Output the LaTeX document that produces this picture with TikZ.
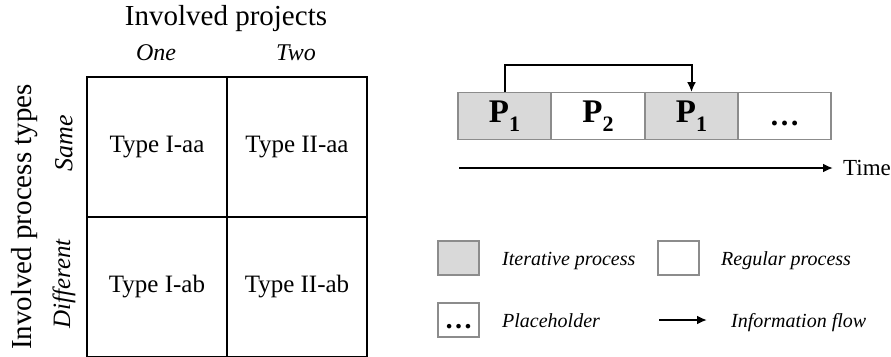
\documentclass[tikz,border=0pt]{standalone}
\usepackage{fontspec}
\setmainfont{Liberation Serif}
\usetikzlibrary{arrows.meta}
\definecolor{boxline}{HTML}{8C8C8C}
\definecolor{boxfill}{HTML}{D9D9D9}
\newcommand{\fs}[1]{\fontsize{#1}{#1}\selectfont}
\newcommand{\Pidx}[1]{\textbf{P}\raisebox{-0.28em}{\fs{22}\textbf{#1}}}
\newcommand{\bdots}{\vphantom{P}\textbf{\dots}}
\tikzset{
  cell/.style={draw=black, line width=1.4pt, minimum width=140pt, minimum height=140pt, inner sep=0pt, font=\fs{25}},
  proc/.style={draw=boxline, line width=1.3pt, minimum width=93pt, minimum height=46.5pt, inner sep=0pt, font=\fs{33}\bfseries},
  iter/.style={proc, fill=boxfill},
  reg/.style={proc, fill=white},
  legbox/.style={draw=boxline, line width=1.3pt, minimum width=41pt, minimum height=34pt, inner sep=0pt},
  legtext/.style={anchor=base west, inner sep=0pt, font=\fs{20}\itshape},
  flow/.style={line width=2pt, -{Latex[length=10pt,width=9pt]}},
}
\begin{document}
\begin{tikzpicture}[x=1pt,y=-1pt]
\useasboundingbox[fill=white] (0,0) rectangle (891,356);
% matrix
\node[cell] (c11) at (157,147) {Type I-aa};
\node[cell] (c12) at (297,147) {Type II-aa};
\node[cell] (c21) at (157,287) {Type I-ab};
\node[cell] (c22) at (297,287) {Type II-ab};
\node[font=\fs{29}] (hproj) at (226,19) {Involved projects};
\node[font=\fs{24}\itshape] (one) at (156,53) {One};
\node[font=\fs{24}\itshape] (two) at (296,53) {Two};
\node[font=\fs{29}, rotate=90] (vproc) at (25,217) {Involved process types};
\node[font=\fs{26}\itshape, rotate=90] (same) at (64,143) {Same};
\node[font=\fs{25}\itshape, rotate=90] (diff) at (64,284) {Different};
% process chain
\node[iter] (p1) at (504.5,116) {\Pidx{1}};
\node[reg]  (p2) at (598,116) {\Pidx{2}};
\node[iter] (p3) at (691.5,116) {\Pidx{1}};
\node[reg, font=\fs{30}] (p4) at (784.5,116) {\bdots};
\coordinate (fb) at (504.5,65);
\draw[flow] (p1.north) -- (fb) -| (p3.north);
% time axis
\coordinate (t0) at (459,168);
\coordinate (t1) at (833,168);
\node[anchor=west, inner sep=0pt, font=\fs{23}] (time) at (843,168) {Time};
\draw[flow] (t0) -- (t1);
% legend
\node[legbox, fill=boxfill] (lg1) at (458.5,258) {};
\node[legtext] (lt1) at (502,265) {Iterative process};
\node[legbox, fill=white] (lg2) at (678.5,258) {};
\node[legtext] (lt2) at (721,265) {Regular process};
\node[legbox, fill=white, font=\fs{28}] (lg3) at (458.5,320) {\bdots};
\node[legtext] (lt3) at (502,327) {Placeholder};
\coordinate (la0) at (659,320);
\coordinate (la1) at (707,320);
\draw[flow] (la0) -- (la1);
\node[legtext] (lt4) at (731,327) {Information flow};
\end{tikzpicture}
\end{document}
